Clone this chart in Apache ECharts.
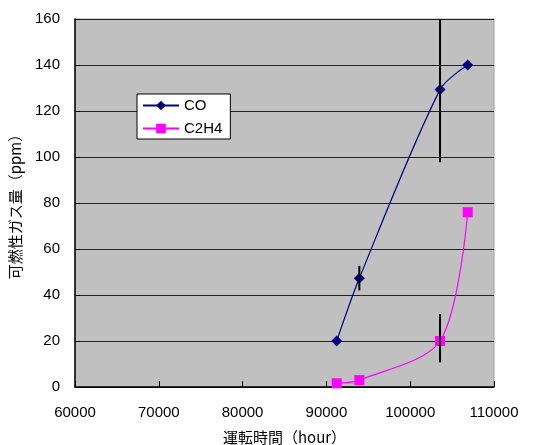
<!DOCTYPE html>
<html><head><meta charset="utf-8">
<script src="https://cdn.jsdelivr.net/npm/echarts@6/dist/echarts.min.js"></script>
<style>html,body{margin:0;padding:0;background:#fff}#c{width:542px;height:445px}</style>
</head><body><div id="c"></div>
<script>
const hours = [91230, 93930, 103560, 106860];
const coValues = [20, 47.3, 129.3, 140];
const c2h4Values = [1.6, 3.0, 20, 76];
// error bars: [x, low, high]
const errorBars = [[93930, 42, 52.7], [103560, 97.7, 160], [103560, 10.7, 31.7]];
const xTicks = {min: 60000, max: 110000, interval: 10000};
const yTicks = {min: 0, max: 160, interval: 20};

const chart = echarts.init(document.getElementById('c'), null, {renderer: 'canvas'});
const numFont = 'Liberation Sans, Arial, sans-serif';
const jpFont = '"Noto Sans CJK JP", sans-serif';
chart.setOption({
  animation: false,
  backgroundColor: '#fff',
  grid: {left: 75, top: 19, right: 48, bottom: 58, outerBoundsMode: 'none', containLabel: false,
         show: true, backgroundColor: '#c0c0c0', borderColor: '#a0a0a0', borderWidth: 1},
  xAxis: {
    type: 'value', min: xTicks.min, max: xTicks.max, interval: xTicks.interval,
    name: '運転時間（hour）', nameLocation: 'middle', nameGap: 43,
    nameTextStyle: {fontFamily: jpFont, fontSize: 15, color: '#000'},
    axisLine: {show: true, lineStyle: {color: '#000', width: 1.5}},
    axisTick: {show: true, inside: true, length: 6, lineStyle: {color: '#000'}},
    axisLabel: {fontFamily: numFont, fontSize: 15, color: '#000', margin: 18, showMaxLabel: true,
                formatter: v => String(v)},
    splitLine: {show: false}
  },
  yAxis: {
    type: 'value', min: yTicks.min, max: yTicks.max, interval: yTicks.interval,
    name: '可燃性ガス量（ppm）', nameLocation: 'middle', nameGap: 52,
    nameTextStyle: {fontFamily: jpFont, fontSize: 15, color: '#000'},
    axisLine: {show: true, lineStyle: {color: '#000', width: 1.5}},
    axisTick: {show: true, inside: true, length: 5, lineStyle: {color: '#000'}},
    axisLabel: {fontFamily: numFont, fontSize: 15, color: '#000', margin: 15, formatter: v => String(v)},
    splitLine: {show: true, lineStyle: {color: '#222', width: 1}}
  },
  legend: {
    left: 137, top: 94, orient: 'vertical', itemGap: 8, itemWidth: 36, itemHeight: 12,
    padding: [4, 8, 3, 5],
    backgroundColor: '#fff', borderColor: '#000', borderWidth: 1, borderRadius: 0,
    textStyle: {fontFamily: numFont, fontSize: 15, color: '#000'},
    data: ['CO', 'C2H4']
  },
  series: [
    {
      name: 'CO', type: 'line', smooth: 0.3,
      data: hours.map((h, i) => [h, coValues[i]]),
      symbol: 'diamond', symbolSize: 11,
      lineStyle: {color: '#000080', width: 1.2},
      itemStyle: {color: '#000080'}, z: 3
    },
    {
      name: 'C2H4', type: 'line', smooth: 0.3,
      data: hours.map((h, i) => [h, c2h4Values[i]]),
      symbol: 'rect', symbolSize: 10,
      lineStyle: {color: '#ff00ff', width: 1.2},
      itemStyle: {color: '#ff00ff'}, z: 3
    },
    {
      type: 'custom', clip: true, silent: true, z: 4,
      data: errorBars,
      renderItem: function (params, api) {
        const p1 = api.coord([api.value(0), api.value(1)]);
        const p2 = api.coord([api.value(0), api.value(2)]);
        return {type: 'line', shape: {x1: p1[0], y1: p1[1], x2: p2[0], y2: p2[1]}, style: {stroke: '#000', lineWidth: 2}};
      }
    }
  ]
});
</script></body></html>
